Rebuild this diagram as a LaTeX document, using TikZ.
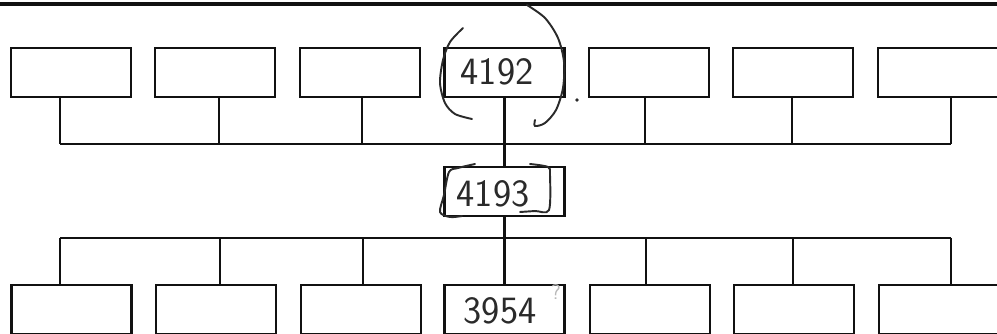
\documentclass[tikz,border=0pt]{standalone}
\usepackage{xcolor}
\usetikzlibrary{positioning}
\definecolor{ink}{HTML}{111111}
\definecolor{pen}{HTML}{2A2A2A}
\definecolor{faint}{HTML}{B8B8B8}
\tikzset{box/.style={draw=ink, line width=1.5pt, minimum width=2.4cm, minimum height=0.98cm, inner sep=0pt}, bus/.style={draw=ink, line width=1.5pt}, hand/.style={draw=pen, line width=1.1pt, line cap=round}, num/.style={font=\sffamily\fontsize{22}{24}\selectfont, text=pen, inner sep=0pt}}

\begin{document}
\begin{tikzpicture}[x=0.02cm, y=-0.02cm]
\useasboundingbox (0,0) rectangle (997,334);
\draw[bus, line width=2pt] (0,4) -- (997,4);
% top row, middle box, bottom row
\foreach \i/\x in {1/71, 2/215, 3/360, 4/504.5, 5/649, 6/793, 7/938} \node[box] (t\i) at (\x,72.5) {};
\node[box] (mid) at (504.5,191.5) {};
\foreach \i/\x in {1/71.5, 2/216, 3/361, 4/504.5, 5/650, 6/794, 7/939} \node[box] (b\i) at (\x,309.5) {};
% bus points
\foreach \i/\x in {1/60, 2/219, 3/362, 4/505, 5/645, 6/792, 7/951} \coordinate (dt\i) at (\x,144);
\foreach \i/\x in {1/60, 2/220, 3/363, 4/505, 5/646, 6/793, 7/951} \coordinate (db\i) at (\x,238);
\draw[bus] (dt1) -- (dt7); \draw[bus] (db1) -- (db7);
\foreach \i in {1,2,3,5,6,7} {\draw[bus] (t\i.south -| dt\i) -- (dt\i); \draw[bus] (db\i) -- (b\i.north -| db\i);}
\draw[bus] (t4.south) -- (mid.north); \draw[bus] (mid.south) -- (b4.north);
% handwriting
\node[num] (n4192) at (497,72) {4192};
\node[num] (n4193) at (493,194) {4193};
\node[num] (n3954) at (500,311) {3954};
\node[font=\sffamily\fontsize{12}{14}\selectfont, text=faint, inner sep=0pt] (qm) at (556,292) {?};
\draw[hand] plot[smooth] coordinates {(463,28) (450,42) (443,60) (440,83) (445,103) (455,114) (472,119)};
\draw[hand] plot[smooth] coordinates {(527,5) (545,18) (558,38) (564,62) (563,88) (556,110) (545,123) (535,126) (535,120)};
\fill[pen] (577,100) circle (1.8);
\draw[hand] plot[smooth] coordinates {(475,164) (458,168) (449,172) (444,195) (440,212) (450,217) (462,216)};
\draw[hand] plot[smooth] coordinates {(530,164) (548,167) (550,175) (549,210) (535,211) (520,212)};
\end{tikzpicture}
\end{document}
